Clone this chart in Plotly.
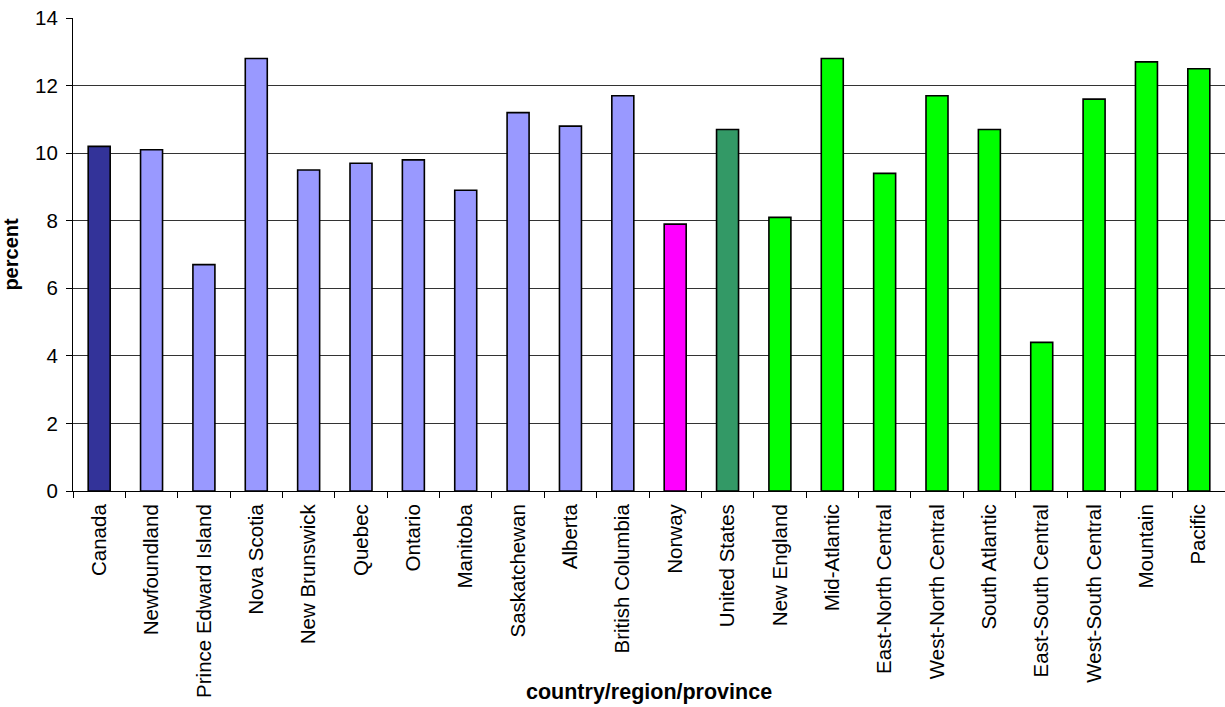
import plotly.graph_objects as go

categories = ["Canada", "Newfoundland", "Prince Edward Island", "Nova Scotia",
              "New Brunswick", "Quebec", "Ontario", "Manitoba", "Saskatchewan",
              "Alberta", "British Columbia", "Norway", "United States",
              "New England", "Mid-Atlantic", "East-North Central",
              "West-North Central", "South Atlantic", "East-South Central",
              "West-South Central", "Mountain", "Pacific"]
values = [10.2, 10.1, 6.7, 12.8, 9.5, 9.7, 9.8, 8.9, 11.2, 10.8, 11.7,
          7.9, 10.7, 8.1, 12.8, 9.4, 11.7, 10.7, 4.4, 11.6, 12.7, 12.5]
groups = ["canada"] + ["province"] * 10 + ["norway", "us"] + ["region"] * 9
group_colors = {"canada": "#333399", "province": "#9999FF",
                "norway": "#FF00FF", "us": "#339966", "region": "#00FF00"}
colors = [group_colors[g] for g in groups]

y_ticks = [0, 2, 4, 6, 8, 10, 12, 14]

fig = go.Figure()
fig.add_trace(go.Bar(
    x=categories, y=values,
    marker=dict(color=colors, line=dict(color="black", width=1.6)),
    showlegend=False,
))

font_family = "Liberation Sans, Arial, sans-serif"
fig.update_layout(
    width=1225, height=707,
    margin=dict(l=73, r=0, t=18, b=216),
    plot_bgcolor="white", paper_bgcolor="white",
    bargap=0.58,
    font=dict(family=font_family, size=20, color="black"),
    xaxis=dict(
        tickangle=-90,
        tickson="boundaries",
        ticks="outside", ticklen=6, tickcolor="black",
        ticklabelstandoff=4,
        showline=True, linecolor="black", linewidth=1,
        showgrid=False,
        tickfont=dict(size=20.5),
    ),
    yaxis=dict(
        title=dict(text="<b>percent</b>", font=dict(size=20), standoff=14),
        range=[0, 14],
        tickvals=y_ticks,
        ticks="outside", ticklen=6, tickcolor="black",
        ticklabelstandoff=4,
        showline=True, linecolor="black", linewidth=1,
        showgrid=True, gridcolor="#333333", gridwidth=1,
        zeroline=False,
        tickfont=dict(size=20.5),
    ),
    annotations=[dict(
        text="<b>country/region/province</b>",
        xref="paper", yref="paper", x=0.5, y=-0.425,
        xanchor="center", yanchor="middle", showarrow=False,
        font=dict(size=21.5),
    )],
)

fig.write_html("out.html")
